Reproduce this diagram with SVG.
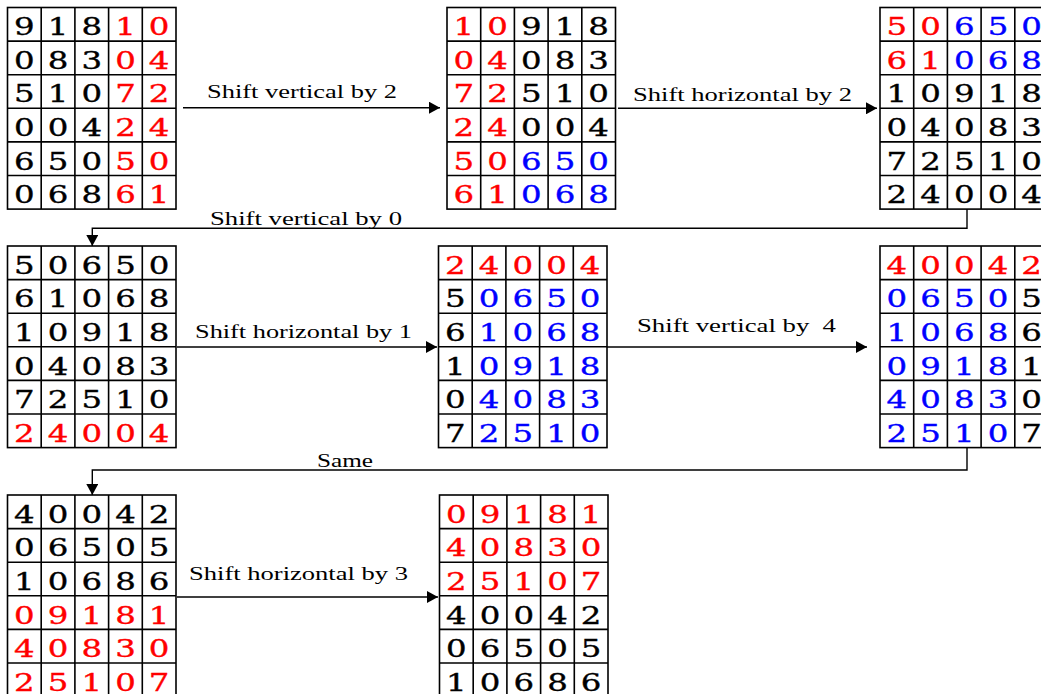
<svg xmlns="http://www.w3.org/2000/svg" xmlns:xlink="http://www.w3.org/1999/xlink" width="1041" height="694" viewBox="0 0 1041 694">
  <style>
    .cells { fill: none; stroke: #000; stroke-width: 1.6; }
    .digits text { font-family: "DejaVu Serif", "Liberation Serif", serif; font-size: 24px; text-anchor: middle; fill: #000; stroke: #000; stroke-width: 0.35; }
    .r { fill: #ff0000; stroke: #ff0000; }
    .b { fill: #0000ff; stroke: #0000ff; }
    .conn { fill: none; stroke: #000; stroke-width: 1.4; }
    .lbl { font-family: "Liberation Serif", "DejaVu Serif", serif; font-size: 18px; fill: #000; white-space: pre; }
  </style>
  <defs>
    <!-- 6 x 5 table outline, cell 33.7 x 33.6 -->
    <g id="cells" class="cells">
      <rect x="0" y="0" width="168.5" height="201.6"/>
      <path d="M33.7 0V201.6M67.4 0V201.6M101.1 0V201.6M134.8 0V201.6M0 33.6H168.5M0 67.2H168.5M0 100.8H168.5M0 134.4H168.5M0 168H168.5"/>
    </g>
    <marker id="arrow" markerUnits="userSpaceOnUse" markerWidth="11" markerHeight="12" refX="11" refY="6" orient="auto">
      <path d="M0 0L11 6L0 12z" fill="#000"/>
    </marker>
  </defs>

  <rect width="1041" height="694" fill="#fff"/>

  <!-- Connectors -->
  <g id="connectors">
    <path class="conn" d="M183 107.7H440" marker-end="url(#arrow)"/>
    <path class="conn" d="M618 108.3H877" marker-end="url(#arrow)"/>
    <path class="conn" d="M967 209V228.3H92.3V246" marker-end="url(#arrow)"/>
    <path class="conn" d="M177 347H437" marker-end="url(#arrow)"/>
    <path class="conn" d="M607 347H867" marker-end="url(#arrow)"/>
    <path class="conn" d="M967 447.3V470H92.3V495" marker-end="url(#arrow)"/>
    <path class="conn" d="M177 597H438" marker-end="url(#arrow)"/>
    <text class="lbl" x="207" y="98.3" textLength="190" lengthAdjust="spacingAndGlyphs">Shift vertical by 2</text>
    <text class="lbl" x="633" y="101" textLength="219" lengthAdjust="spacingAndGlyphs">Shift horizontal by 2</text>
    <text class="lbl" x="210" y="225" textLength="192" lengthAdjust="spacingAndGlyphs">Shift vertical by 0</text>
    <text class="lbl" x="195" y="338" textLength="217" lengthAdjust="spacingAndGlyphs">Shift horizontal by 1</text>
    <text class="lbl" x="637" y="332" textLength="199" lengthAdjust="spacingAndGlyphs">Shift vertical by  4</text>
    <text class="lbl" x="317" y="467" textLength="56" lengthAdjust="spacingAndGlyphs">Same</text>
    <text class="lbl" x="189" y="580" textLength="219" lengthAdjust="spacingAndGlyphs">Shift horizontal by 3</text>
  </g>

  <!-- Step 1: initial block -->
  <g id="grid1" transform="translate(7.5,7.5)">
    <use xlink:href="#cells"/>
    <g class="digits" transform="scale(1.35,1)">
      <text x="12.48 37.44 62.41 87.37 112.33" y="27.8">918<tspan class="r">10</tspan></text>
      <text x="12.48 37.44 62.41 87.37 112.33" y="61.4">083<tspan class="r">04</tspan></text>
      <text x="12.48 37.44 62.41 87.37 112.33" y="95">510<tspan class="r">72</tspan></text>
      <text x="12.48 37.44 62.41 87.37 112.33" y="128.6">004<tspan class="r">24</tspan></text>
      <text x="12.48 37.44 62.41 87.37 112.33" y="162.2">650<tspan class="r">50</tspan></text>
      <text x="12.48 37.44 62.41 87.37 112.33" y="195.8">068<tspan class="r">61</tspan></text>
    </g>
  </g>

  <!-- Step 2 -->
  <g id="grid2" transform="translate(447,7.5)">
    <use xlink:href="#cells"/>
    <g class="digits" transform="scale(1.35,1)">
      <text x="12.48 37.44 62.41 87.37 112.33" y="27.8"><tspan class="r">10</tspan>918</text>
      <text x="12.48 37.44 62.41 87.37 112.33" y="61.4"><tspan class="r">04</tspan>083</text>
      <text x="12.48 37.44 62.41 87.37 112.33" y="95"><tspan class="r">72</tspan>510</text>
      <text x="12.48 37.44 62.41 87.37 112.33" y="128.6"><tspan class="r">24</tspan>004</text>
      <text x="12.48 37.44 62.41 87.37 112.33" y="162.2"><tspan class="r">50</tspan><tspan class="b">650</tspan></text>
      <text x="12.48 37.44 62.41 87.37 112.33" y="195.8"><tspan class="r">61</tspan><tspan class="b">068</tspan></text>
    </g>
  </g>

  <!-- Step 3 -->
  <g id="grid3" transform="translate(880,7.5)">
    <use xlink:href="#cells"/>
    <g class="digits" transform="scale(1.35,1)">
      <text x="12.48 37.44 62.41 87.37 112.33" y="27.8"><tspan class="r">50</tspan><tspan class="b">650</tspan></text>
      <text x="12.48 37.44 62.41 87.37 112.33" y="61.4"><tspan class="r">61</tspan><tspan class="b">068</tspan></text>
      <text x="12.48 37.44 62.41 87.37 112.33" y="95">10918</text>
      <text x="12.48 37.44 62.41 87.37 112.33" y="128.6">04083</text>
      <text x="12.48 37.44 62.41 87.37 112.33" y="162.2">72510</text>
      <text x="12.48 37.44 62.41 87.37 112.33" y="195.8">24004</text>
    </g>
  </g>

  <!-- Step 4 -->
  <g id="grid4" transform="translate(7.5,246)">
    <use xlink:href="#cells"/>
    <g class="digits" transform="scale(1.35,1)">
      <text x="12.48 37.44 62.41 87.37 112.33" y="27.8">50650</text>
      <text x="12.48 37.44 62.41 87.37 112.33" y="61.4">61068</text>
      <text x="12.48 37.44 62.41 87.37 112.33" y="95">10918</text>
      <text x="12.48 37.44 62.41 87.37 112.33" y="128.6">04083</text>
      <text x="12.48 37.44 62.41 87.37 112.33" y="162.2">72510</text>
      <text x="12.48 37.44 62.41 87.37 112.33" y="195.8"><tspan class="r">24004</tspan></text>
    </g>
  </g>

  <!-- Step 5 -->
  <g id="grid5" transform="translate(438.5,246)">
    <use xlink:href="#cells"/>
    <g class="digits" transform="scale(1.35,1)">
      <text x="12.48 37.44 62.41 87.37 112.33" y="27.8"><tspan class="r">24004</tspan></text>
      <text x="12.48 37.44 62.41 87.37 112.33" y="61.4">5<tspan class="b">0650</tspan></text>
      <text x="12.48 37.44 62.41 87.37 112.33" y="95">6<tspan class="b">1068</tspan></text>
      <text x="12.48 37.44 62.41 87.37 112.33" y="128.6">1<tspan class="b">0918</tspan></text>
      <text x="12.48 37.44 62.41 87.37 112.33" y="162.2">0<tspan class="b">4083</tspan></text>
      <text x="12.48 37.44 62.41 87.37 112.33" y="195.8">7<tspan class="b">2510</tspan></text>
    </g>
  </g>

  <!-- Step 6 -->
  <g id="grid6" transform="translate(880,246)">
    <use xlink:href="#cells"/>
    <g class="digits" transform="scale(1.35,1)">
      <text x="12.48 37.44 62.41 87.37 112.33" y="27.8"><tspan class="r">40042</tspan></text>
      <text x="12.48 37.44 62.41 87.37 112.33" y="61.4"><tspan class="b">0650</tspan>5</text>
      <text x="12.48 37.44 62.41 87.37 112.33" y="95"><tspan class="b">1068</tspan>6</text>
      <text x="12.48 37.44 62.41 87.37 112.33" y="128.6"><tspan class="b">0918</tspan>1</text>
      <text x="12.48 37.44 62.41 87.37 112.33" y="162.2"><tspan class="b">4083</tspan>0</text>
      <text x="12.48 37.44 62.41 87.37 112.33" y="195.8"><tspan class="b">2510</tspan>7</text>
    </g>
  </g>

  <!-- Step 7 -->
  <g id="grid7" transform="translate(7.5,495)">
    <use xlink:href="#cells"/>
    <g class="digits" transform="scale(1.35,1)">
      <text x="12.48 37.44 62.41 87.37 112.33" y="27.8">40042</text>
      <text x="12.48 37.44 62.41 87.37 112.33" y="61.4">06505</text>
      <text x="12.48 37.44 62.41 87.37 112.33" y="95">10686</text>
      <text x="12.48 37.44 62.41 87.37 112.33" y="128.6"><tspan class="r">09181</tspan></text>
      <text x="12.48 37.44 62.41 87.37 112.33" y="162.2"><tspan class="r">40830</tspan></text>
      <text x="12.48 37.44 62.41 87.37 112.33" y="195.8"><tspan class="r">25107</tspan></text>
    </g>
  </g>

  <!-- Step 8: final block -->
  <g id="grid8" transform="translate(439.5,495)">
    <use xlink:href="#cells"/>
    <g class="digits" transform="scale(1.35,1)">
      <text x="12.48 37.44 62.41 87.37 112.33" y="27.8"><tspan class="r">09181</tspan></text>
      <text x="12.48 37.44 62.41 87.37 112.33" y="61.4"><tspan class="r">40830</tspan></text>
      <text x="12.48 37.44 62.41 87.37 112.33" y="95"><tspan class="r">25107</tspan></text>
      <text x="12.48 37.44 62.41 87.37 112.33" y="128.6">40042</text>
      <text x="12.48 37.44 62.41 87.37 112.33" y="162.2">06505</text>
      <text x="12.48 37.44 62.41 87.37 112.33" y="195.8">10686</text>
    </g>
  </g>
</svg>
